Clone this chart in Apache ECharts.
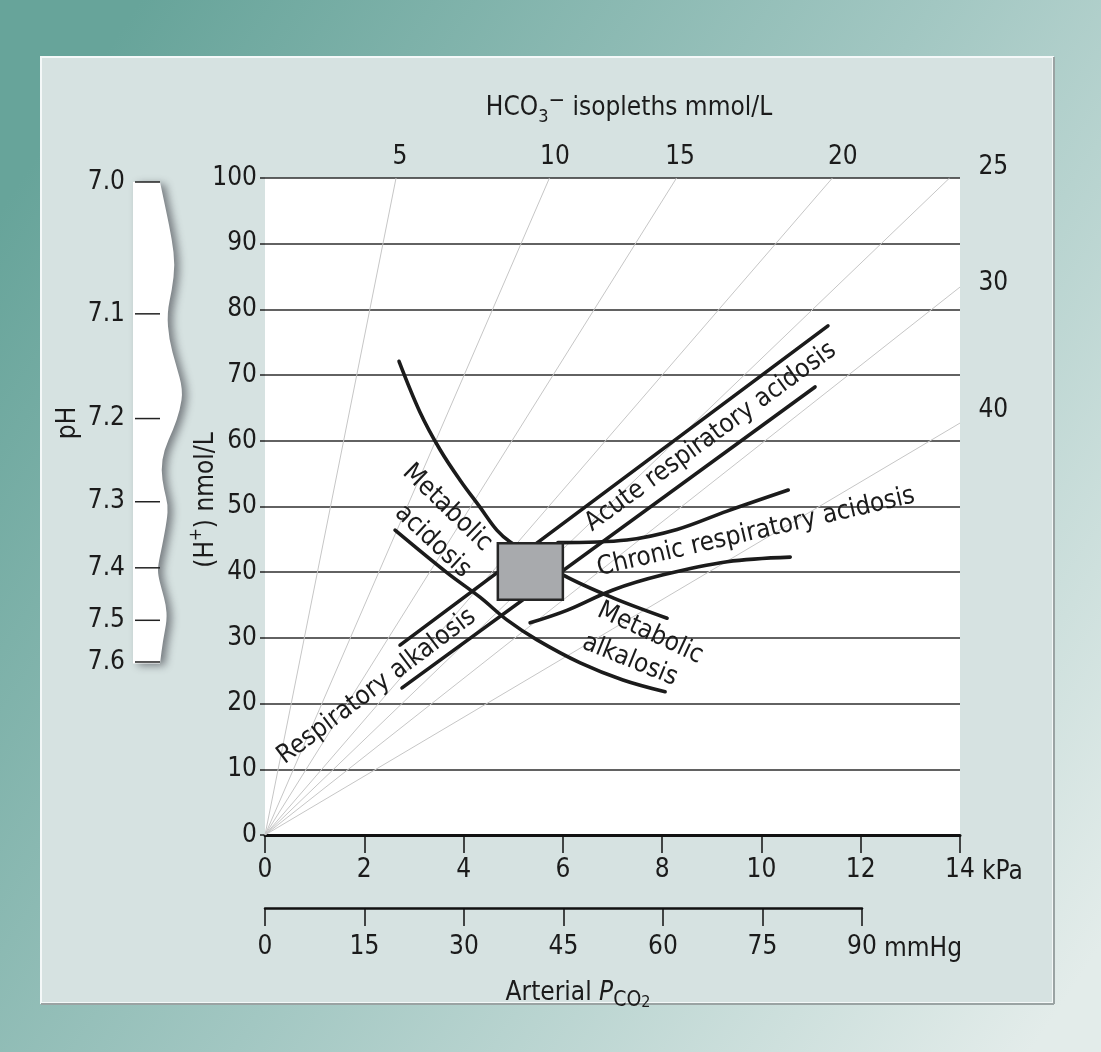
<!DOCTYPE html>
<html><head><meta charset="utf-8">
<script src="https://cdn.jsdelivr.net/npm/echarts@6/dist/echarts.min.js"></script>
<style>html,body{margin:0;padding:0;background:#fff}#c{width:1101px;height:1052px}</style>
</head><body><div id="c"></div>
<script>
const FONT = "'Liberation Sans Narrow','DejaVu Sans Condensed','Open Sans',sans-serif";
const INK = '#1b1b1b';

// ---- axes / ticks ----
const kpaRange = [0, 14];          // kPa, interval 2
const mmHgRange = [0, 90];         // mmHg, interval 15
const hRange = [0, 100];           // (H+) nmol/L, interval 10
const phTicks = [7.0, 7.1, 7.2, 7.3, 7.4, 7.5, 7.6];

// ---- HCO3- isopleths: label and the far end of each ray from the origin [kPa, H+] ----
const isoNames = ['5', '10', '15', '20', '25', '30', '40'];
const isoEnds = [[2.64, 100], [5.73, 100], [8.29, 100], [11.43, 100], [13.79, 100], [14, 83.4], [14, 62.7]];
const isoLabelAt = [[2.72, 103.2], [5.84, 103.2], [8.36, 103.2], [11.64, 103.2], [14.67, 101.7], [14.67, 84.0], [14.67, 64.7]];

// ---- band boundaries [kPa, H+ nmol/L] ----
const metabolicUpper = [[2.70, 72.1], [3.12, 64.4], [3.53, 58.6], [3.93, 54.0], [4.33, 49.9], [4.67, 46.4], [4.94, 44.6], [6.0, 39.6], [7.01, 36.1], [8.1, 33.0]];
const metabolicLower = [[2.62, 46.4], [3.67, 39.9], [4.33, 36.2], [4.88, 32.7], [5.48, 29.7], [6.35, 26.2], [7.21, 23.6], [8.06, 21.8]];
const acuteUpper = [[2.72, 28.9], [11.34, 77.5]];
const acuteLower = [[2.76, 22.4], [11.08, 68.2]];
const chronicUpper = [[5.9, 44.5], [7.29, 44.9], [8.3, 46.5], [9.31, 49.3], [10.54, 52.5]];
const chronicLower = [[5.34, 32.3], [6.08, 34.2], [7.01, 37.3], [8.02, 39.6], [9.31, 41.6], [10.58, 42.3]];

// ---- normal range box [kPa min, H max, kPa max, H min] ----
const normalBox = [[4.69, 44.4, 6.0, 35.8]];

// ---- annotations: text, anchor [kPa, H+], angle (deg) ----
const noteText = ['Metabolic', 'acidosis', 'Metabolic', 'alkalosis', 'Acute respiratory acidosis', 'Chronic respiratory acidosis', 'Respiratory alkalosis'];
const noteAt = [[3.67, 49.8], [3.38, 44.7], [7.76, 30.7], [7.35, 26.6], [8.98, 60.6], [9.89, 46.1], [2.25, 22.6]];
const noteAngle = [-44, -43, -25, -22, 36, 13, 37];
const noteSize = [26, 26, 26, 26, 26, 26, 26];

// decorative wavy edge of the pH strip: [pixel offset from strip left, H+]
const stripEdge = [[27,100],[33,95.6],[39,91.0],[42,87.1],[39,83.2],[34,79.6],[36,75.4],[43,71.5],[50,67.6],[47,64.4],[40,61.3],[31,58.2],[28,55.1],[31,52.0],[35,49.6],[34,47.3],[29,43.1],[25,40.2],[25,38.7],[29,36.3],[33,34.0],[34,31.7],[30,28.5],[27,24.9]];

const chart = echarts.init(document.getElementById('c'), null, {renderer: 'canvas'});

const bandLine = (data, smooth) => ({
  type: 'line', xAxisIndex: 0, yAxisIndex: 0, data, smooth: smooth ? 0.35 : false,
  showSymbol: false, symbol: 'none', silent: true, z: 5,
  lineStyle: {color: INK, width: 3.6, cap: 'round'}
});

const series = [];
isoEnds.forEach((e) => {
  series.push({type: 'line', xAxisIndex: 0, yAxisIndex: 0, data: [[0, 0], e], showSymbol: false, symbol: 'none', silent: true, z: 3,
    lineStyle: {color: '#c6c6c6', width: 1}});
});
series.push(bandLine(metabolicUpper, true));
series.push(bandLine(metabolicLower, true));
series.push(bandLine(acuteUpper, false));
series.push(bandLine(acuteLower, false));
series.push(bandLine(chronicUpper, true));
series.push(bandLine(chronicLower, true));

series.push({
  type: 'custom', xAxisIndex: 0, yAxisIndex: 0, data: normalBox, z: 8, silent: true,
  renderItem: (p, api) => {
    const a = api.coord([api.value(0), api.value(1)]);
    const b = api.coord([api.value(2), api.value(3)]);
    return {type: 'rect', shape: {x: a[0], y: a[1], width: b[0] - a[0], height: b[1] - a[1]},
      style: {fill: '#a8aaad', stroke: '#262626', lineWidth: 2.5}};
  }
});

// isopleth labels
series.push({
  type: 'custom', xAxisIndex: 0, yAxisIndex: 0, silent: true, z: 9, clip: false,
  data: isoLabelAt.map((p, i) => ({value: p, name: isoNames[i]})),
  renderItem: (p, api) => {
    const c = api.coord([api.value(0), api.value(1)]);
    return {type: 'text', x: c[0], y: c[1], style: {text: isoNames[p.dataIndex], fontSize: 26, fontFamily: FONT, fill: INK, align: 'center', verticalAlign: 'middle'}};
  }
});

// annotations
series.push({
  type: 'custom', xAxisIndex: 0, yAxisIndex: 0, silent: true, z: 10, clip: false,
  data: noteAt,
  renderItem: (p, api) => {
    const c = api.coord([api.value(0), api.value(1)]);
    return {type: 'text', x: c[0], y: c[1], rotation: noteAngle[p.dataIndex] * Math.PI / 180,
      style: {text: noteText[p.dataIndex], fontSize: noteSize[p.dataIndex], fontFamily: FONT, fill: INK, align: 'center', verticalAlign: 'middle'}};
  }
});

// pH strip
series.push({
  type: 'custom', xAxisIndex: 1, yAxisIndex: 1, silent: true, z: 2, clip: false,
  data: [[0, 0]],
  renderItem: (p, api) => {
    const pts = stripEdge.map(e => api.coord(e));
    const lt = api.coord([0, stripEdge[0][1]]);
    const lb = api.coord([0, stripEdge[stripEdge.length - 1][1]]);
    let d = `M ${lt[0]} ${lt[1]} L ${pts[0][0]} ${pts[0][1]}`;
    for (let i = 1; i < pts.length - 1; i++) {
      const mx = (pts[i][0] + pts[i + 1][0]) / 2, my = (pts[i][1] + pts[i + 1][1]) / 2;
      d += ` Q ${pts[i][0]} ${pts[i][1]} ${mx} ${my}`;
    }
    const last = pts[pts.length - 1];
    d += ` L ${last[0]} ${last[1]} L ${lb[0]} ${lb[1]} Z`;
    return {type: 'path', shape: {pathData: d},
      style: {fill: '#ffffff', shadowBlur: 9, shadowColor: 'rgba(40,40,50,0.55)', shadowOffsetX: 5, shadowOffsetY: 2}};
  }
});

// pH ticks & labels
series.push({
  type: 'custom', xAxisIndex: 1, yAxisIndex: 1, silent: true, z: 4, clip: false,
  data: phTicks.map(v => [v]),
  renderItem: (p, api) => {
    const ph = api.value(0);
    const h = Math.pow(10, 9 - ph);
    const a = api.coord([2, h]), b = api.coord([27, h]), t = api.coord([-8, h]);
    return {type: 'group', children: [
      {type: 'line', shape: {x1: a[0], y1: a[1], x2: b[0], y2: b[1]}, style: {stroke: '#222', lineWidth: 1.5}},
      {type: 'text', x: t[0], y: t[1], style: {text: ph.toFixed(1), fontSize: 26, fontFamily: FONT, fill: INK, align: 'right', verticalAlign: 'middle'}}
    ]};
  }
});

const labelStyle = {fontSize: 26, fontFamily: FONT, color: INK};

const option = {
  animation: false,
  grid: [
    {left: 265, top: 178, width: 695, height: 657, show: true, backgroundColor: '#ffffff', borderWidth: 0, outerBoundsMode: 'none', containLabel: false},
    {left: 133, top: 182, width: 50, height: 641, show: false, outerBoundsMode: 'none', containLabel: false},
    {left: 265, top: 907, width: 597, height: 1, show: false, outerBoundsMode: 'none', containLabel: false}
  ],
  xAxis: [
    {gridIndex: 0, type: 'value', min: kpaRange[0], max: kpaRange[1], interval: 2,
      axisLine: {show: true, onZero: false, lineStyle: {color: '#111', width: 3}},
      axisTick: {show: true, length: 18, lineStyle: {color: '#111', width: 1.5}},
      axisLabel: Object.assign({margin: 22}, labelStyle),
      splitLine: {show: false},
      name: 'kPa', nameLocation: 'end', nameGap: 22,
      nameTextStyle: {fontSize: 26, fontFamily: FONT, color: INK, verticalAlign: 'top', padding: [24, 0, 0, 0]}},
    {gridIndex: 1, type: 'value', min: 0, max: 50, show: false},
    {gridIndex: 2, type: 'value', min: mmHgRange[0], max: mmHgRange[1], interval: 15,
      axisLine: {show: true, onZero: false, lineStyle: {color: '#111', width: 2.5}},
      axisTick: {show: true, length: 18, lineStyle: {color: '#111', width: 1.5}},
      axisLabel: Object.assign({margin: 26}, labelStyle),
      splitLine: {show: false},
      name: 'mmHg', nameLocation: 'end', nameGap: 22,
      nameTextStyle: {fontSize: 26, fontFamily: FONT, color: INK, verticalAlign: 'top', padding: [28, 0, 0, 0]}}
  ],
  yAxis: [
    {gridIndex: 0, type: 'value', min: hRange[0], max: hRange[1], interval: 10,
      axisLine: {show: false},
      axisTick: {show: true, length: 5, lineStyle: {color: '#222', width: 1.5}},
      axisLabel: Object.assign({margin: 8}, labelStyle),
      splitLine: {show: true, lineStyle: {color: '#2e2e2e', width: 1.5}}},
    {gridIndex: 1, type: 'value', min: 0, max: 100, show: false},
    {gridIndex: 2, type: 'value', min: 0, max: 1, show: false}
  ],
  graphic: [
    {type: 'rect', z: -100, silent: true, shape: {x: 0, y: 0, width: 1101, height: 1052},
      style: {fill: new echarts.graphic.LinearGradient(0, 0.2, 1, 0.9, [
        {offset: 0, color: '#67a49a'}, {offset: 0.5, color: '#a2c7c2'}, {offset: 1, color: '#e3ecea'}])}},
    {type: 'rect', z: -90, silent: true, shape: {x: 41, y: 57, width: 1012, height: 946},
      style: {fill: '#d6e2e1', stroke: '#f4f8f8', lineWidth: 2}},
    {type: 'line', z: -89, silent: true, shape: {x1: 41, y1: 1004, x2: 1054, y2: 1004}, style: {stroke: '#9aa3a3', lineWidth: 2}},
    {type: 'line', z: -89, silent: true, shape: {x1: 1054, y1: 57, x2: 1054, y2: 1004}, style: {stroke: '#9aa3a3', lineWidth: 2}},
    {type: 'text', z: 10, x: 629, y: 108, silent: true,
      style: {text: '{a|HCO}{sub|3}{sup|−}{a| isopleths mmol/L}', align: 'center', verticalAlign: 'middle',
        rich: {a: {fontSize: 26, fontFamily: FONT, fill: INK, lineHeight: 36},
               sub: {fontSize: 18, fontFamily: FONT, fill: INK, lineHeight: 20, verticalAlign: 'bottom'},
               sup: {fontSize: 22, fontFamily: FONT, fill: INK, lineHeight: 22, verticalAlign: 'top'}}}},
    {type: 'text', z: 10, x: 206, y: 500, rotation: Math.PI / 2, silent: true,
      style: {text: '{a|(H}{sup|+}{a|) nmol/L}', align: 'center', verticalAlign: 'middle',
        rich: {a: {fontSize: 26, fontFamily: FONT, fill: INK, lineHeight: 36},
               sup: {fontSize: 17, fontFamily: FONT, fill: INK, lineHeight: 20, verticalAlign: 'top'}}}},
    {type: 'text', z: 10, x: 68, y: 423, rotation: Math.PI / 2, silent: true,
      style: {text: 'pH', fontSize: 26, fontFamily: FONT, fill: INK, align: 'center', verticalAlign: 'middle'}},
    {type: 'text', z: 10, x: 578, y: 993, silent: true,
      style: {text: '{a|Arterial }{i|P}{s|CO}{sub|2}', align: 'center', verticalAlign: 'middle',
        rich: {a: {fontSize: 26, fontFamily: FONT, fill: INK, lineHeight: 36},
               i: {fontSize: 26, fontFamily: FONT, fontStyle: 'italic', fill: INK, lineHeight: 36},
               s: {fontSize: 21, fontFamily: FONT, fill: INK, lineHeight: 32, verticalAlign: 'bottom'},
               sub: {fontSize: 16, fontFamily: FONT, fill: INK, lineHeight: 14, verticalAlign: 'bottom'}}}}
  ],
  series
};
chart.setOption(option);
</script>
</body></html>
